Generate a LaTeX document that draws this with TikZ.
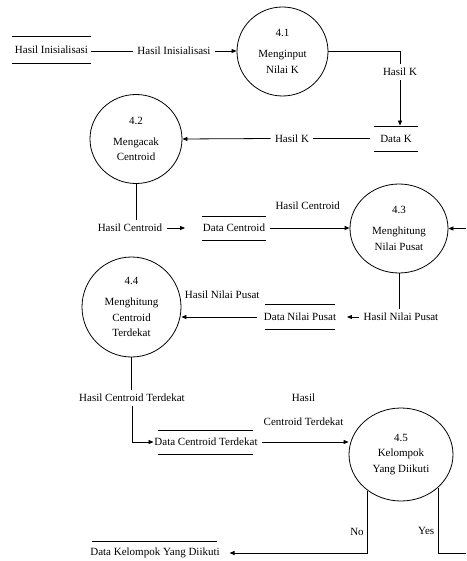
\documentclass[tikz,border=0pt]{standalone}
\usepackage{fontspec}
\setmainfont{Liberation Serif}
\newfontfamily\timesfont{Liberation Serif}
\usetikzlibrary{shapes.geometric,arrows.meta,calc}
\begin{document}
\begin{tikzpicture}[x=1pt,y=-1pt,line width=0.8pt,
  every node/.style={font=\timesfont\fontsize{11}{15.5}\selectfont},
  proc/.style={draw, ellipse, inner sep=0pt, align=center},
  store/.style={inner sep=0.5pt, minimum height=25},
  lab/.style={inner sep=4pt},
  arr/.style={-{Triangle[length=5pt,width=4pt]}}
]
\fill[white] (0,0) rectangle (466,561);
\useasboundingbox (0,0) rectangle (466,561);

% processes
\node[proc, minimum width=91, minimum height=89] (p41) at (282.5,51.5) {4.1\\[5.5pt]Menginput\\Nilai K};
\node[proc, minimum width=92, minimum height=89] (p42) at (136,139) {4.2\\[5.5pt]Mengacak\\Centroid};
\node[proc, minimum width=98, minimum height=89] (p43) at (399,228.5) {4.3\\[5.5pt]Menghitung\\Nilai Pusat};
\node[proc, minimum width=99, minimum height=100] (p44) at (131.5,307) {4.4\\[5.5pt]Menghitung\\Centroid\\Terdekat};
\node[proc, minimum width=104, minimum height=93] (p45) at (401,454.5) {4.5\\Kelompok\\Yang Diikuti};

% data stores
\node[store] (s0) at (51.5,50) {Hasil Inisialisasi};
\draw (12,36) -- (91,36) (12,63) -- (91,63);
\node[store] (sK) at (396,138.5) {Data K};
\draw (374,126) -- (418,126) (374,151) -- (418,151);
\node[store] (sC) at (234,228) {Data Centroid};
\draw (202,216) -- (266,216) (202,240) -- (266,240);
\node[store] (sNP) at (300,317) {Data Nilai Pusat};
\draw (265,304) -- (335,304) (265,329) -- (335,329);
\node[store] (sCT) at (206,442) {Data Centroid Terdekat};
\draw (158,430) -- (253,430) (158,454) -- (253,454);
\node[store] (sKY) at (155,553) {Data Kelompok Yang Diikuti};
\draw (92,541) -- (217,541);

% flow labels
\node[lab] (l1) at (174,51) {Hasil Inisialisasi};
\node[lab] (lK1) at (400,72) {Hasil K};
\node[lab] (lK2) at (292,138.5) {Hasil K};
\node[lab] (lHC) at (130,228) {Hasil Centroid};
\node[lab] (lNP1) at (401,317) {Hasil Nilai Pusat};
\node[lab] (lCT) at (132,398) {Hasil Centroid Terdekat};
\coordinate (rin) at (466,228.5);
\coordinate (rout) at (466,553);

% connectors
\draw[shorten <=2pt] (s0.east |- l1) -- (l1.west);
\draw[arr] (l1.east) -- (p41.west |- l1);
\draw (p41.east) -| (lK1.north);
\draw[arr] (lK1.south) -- (lK1.south |- sK.north);
\draw[shorten <=9pt] (sK.west) -- (lK2.east);
\draw[arr] (lK2.west) -- (p42.east);
\draw (p42.south) -- (p42.south |- lHC.north);
\draw[arr, shorten >=17pt] (lHC.east) -- (sC.west);
\draw[arr, shorten <=4pt] (sC.east) -- (sC.east -| p43.west) node[midway, yshift=22pt] {Hasil Centroid};
\draw[arr] (rin) -- (p43.east);
\draw (p43.south) -- (p43.south |- lNP1.north);
\draw[arr, shorten >=10pt] (lNP1.west) -- (sNP.east);
\draw[arr, shorten <=6pt] (sNP.west) -- (sNP.west -| p44.east) node[midway, yshift=22pt] {Hasil Nilai Pusat};
\draw (p44.south) -- (p44.south |- lCT.north);
\draw[arr] (lCT.south) |- (sCT.west);
\draw[arr, shorten <=4pt] (sCT.east) -- (sCT.east -| p45.west) node[midway, yshift=32pt, align=center] {Hasil\\[8.5pt]Centroid Terdekat};
\draw[arr, shorten >=9pt] (p45.227) |- (sKY.east) node[pos=0.33, left] {No};
\draw (p45.318) |- (rout) node[pos=0.33, left] {Yes};
\end{tikzpicture}
\end{document}
